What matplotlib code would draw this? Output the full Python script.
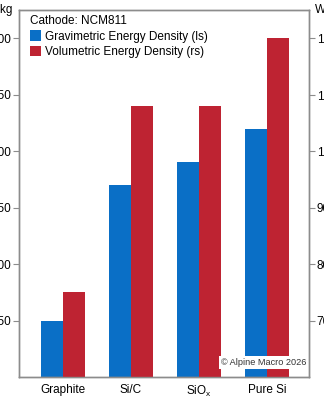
import matplotlib
matplotlib.use("Agg")
import matplotlib.pyplot as plt
import numpy as np

plt.rcParams['font.family'] = ['Liberation Sans', 'DejaVu Sans']

# data
categories = ['Graphite', 'Si/C', 'SiO$_\\mathregular{x}$', 'Pure Si']
gravimetric = [250, 370, 390, 420]      # Wh/kg, left scale
volumetric = [750, 1080, 1080, 1200]    # Wh/l, right scale
left_ticks = [250, 300, 350, 400, 450, 500]
right_ticks = [700, 800, 900, 1000, 1100, 1200]

blue = '#0A6FC6'
red = '#BE2332'
grey = '#8C8C8C'

fig = plt.figure(figsize=(3.24, 4.0), dpi=100)
ax = fig.add_axes([0.0586, 0.0575, 0.8951, 0.9175])
ax2 = ax.twinx()

x = np.arange(len(categories))
w = 0.324
ax.bar(x - w / 2, gravimetric, width=w, color=blue, zorder=2,
       label='Gravimetric Energy Density (ls)')
ax2.bar(x + w / 2, volumetric, width=w, color=red, zorder=2,
        label='Volumetric Energy Density (rs)')

ax.set_xlim(-0.647, 3.618)
ax.set_ylim(200, 525)
ax2.set_ylim(600, 1250)
ax.set_yticks(left_ticks)
ax.set_yticklabels([str(v) for v in left_ticks])
ax2.set_yticks(right_ticks)
ax2.set_yticklabels([f'{v:,}' for v in right_ticks])
ax.set_xticks(x)
ax.set_xticklabels(categories)

for a in (ax, ax2):
    for s in a.spines.values():
        s.set_color(grey)
        s.set_linewidth(1.0)
    a.tick_params(axis='y', direction='out', length=4, width=0.8,
                  color=grey, labelsize=8.5, pad=1.5)
ax.tick_params(axis='x', length=0, labelsize=8.5, pad=5)

ax.annotate('Wh/kg', xy=(0, 1), xycoords='axes fraction', xytext=(-4, 0),
            textcoords='offset points', ha='right', va='center', fontsize=8.5)
ax2.annotate('Wh/l', xy=(1, 1), xycoords='axes fraction', xytext=(4, 0),
             textcoords='offset points', ha='left', va='center', fontsize=8.5)

h1, l1 = ax.get_legend_handles_labels()
h2, l2 = ax2.get_legend_handles_labels()
leg = ax2.legend(h1 + h2, l1 + l2, title='Cathode: NCM811', loc='upper left',
                 bbox_to_anchor=(0.018, 1.0), frameon=False, fontsize=8.5,
                 title_fontsize=8.5, handlelength=1.0, handleheight=1.0,
                 handletextpad=0.35, labelspacing=0.25, borderaxespad=0.25,
                 borderpad=0.2)
leg._legend_box.align = 'left'

ax2.text(0.99, 0.04, '\u00a9 Alpine Macro 2026', transform=ax2.transAxes,
         ha='right', va='center', fontsize=6.6, color='#333333', zorder=5,
         bbox=dict(facecolor='white', edgecolor='none', pad=1.5))

fig.savefig('out.png', dpi=100)
